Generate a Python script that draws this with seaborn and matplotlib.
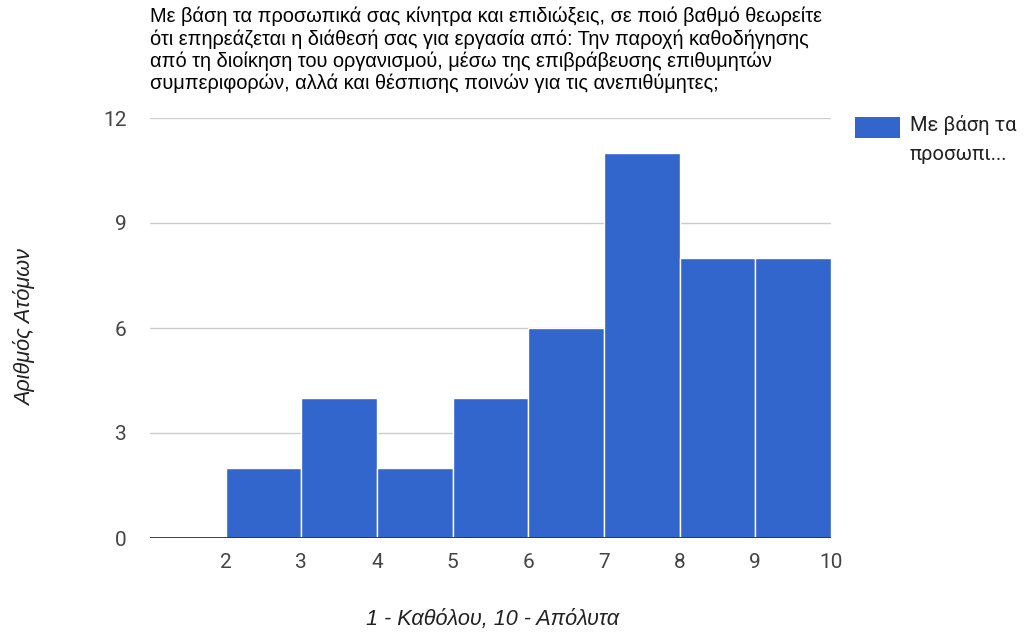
import matplotlib
matplotlib.use("Agg")
import matplotlib.pyplot as plt
from matplotlib.patches import Rectangle
import seaborn as sns

# Data: bins 1-2 ... 9-10
bin_start = [1, 2, 3, 4, 5, 6, 7, 8, 9]
counts = [0, 2, 4, 2, 4, 6, 11, 8, 8]
bin_edges = [1, 2, 3, 4, 5, 6, 7, 8, 9, 10]
x_ticks = [2, 3, 4, 5, 6, 7, 8, 9, 10]
y_ticks = [0, 3, 6, 9, 12]

title = ("Με βάση τα προσωπικά σας κίνητρα και επιδιώξεις, σε ποιό βαθμό θεωρείτε\n"
         "ότι επηρεάζεται η διάθεσή σας για εργασία από: Την παροχή καθοδήγησης\n"
         "από τη διοίκηση του οργανισμού, μέσω της επιβράβευσης επιθυμητών\n"
         "συμπεριφορών, αλλά και θέσπισης ποινών για τις ανεπιθύμητες;")
legend_label = "Με βάση τα\nπροσωπι..."
blue = "#3366cc"

sns.set_style("white")
plt.rcParams["font.family"] = ["Roboto", "DejaVu Sans"]

fig = plt.figure(figsize=(10.24, 6.37), dpi=100)
ax = fig.add_axes([150 / 1024, 99 / 637, 681 / 1024, 420 / 637])

sns.histplot(x=bin_start, weights=counts, bins=bin_edges, ax=ax,
             color=blue, alpha=1, edgecolor="white", linewidth=1)

ax.set_xlim(1, 10)
ax.set_ylim(0, 12)
ax.set_xticks(x_ticks)
ax.set_yticks(y_ticks)
ax.yaxis.grid(True, color="#cccccc", linewidth=1)
ax.set_axisbelow(True)
ax.axhline(0, color="#333333", linewidth=1.3, zorder=5)
for s in ax.spines.values():
    s.set_visible(False)
ax.tick_params(length=0, labelsize=15, colors="#444444")
ax.tick_params(axis="y", pad=17)
ax.tick_params(axis="x", pad=11)
ax.set_xlabel("")
ax.set_ylabel("")

lab_font = ["Liberation Sans", "DejaVu Sans"]
fig.text(493 / 1024, 1 - 620 / 637, "1 - Καθόλου, 10 - Απόλυτα", ha="center", va="center",
         fontsize=15.6, style="italic", color="#222222", family=lab_font)
fig.text(25 / 1024, 1 - 328 / 637, "Αριθμός Ατόμων", ha="center", va="center",
         rotation=90, fontsize=15.6, style="italic", color="#222222", family=lab_font)

fig.text(150 / 1024, 1 - 7 / 637, title, ha="left", va="top", fontsize=14.4,
         family=lab_font, color="#000000", linespacing=1.18)

fig.add_artist(Rectangle((855 / 1024, 1 - 138 / 637), 45 / 1024, 21 / 637,
                         transform=fig.transFigure, facecolor=blue, edgecolor="none"))
fig.text(910 / 1024, 1 - 115 / 637, legend_label, ha="left", va="top", fontsize=14.5,
         color="#222222", linespacing=1.7)

fig.savefig("out.png", dpi=100)
